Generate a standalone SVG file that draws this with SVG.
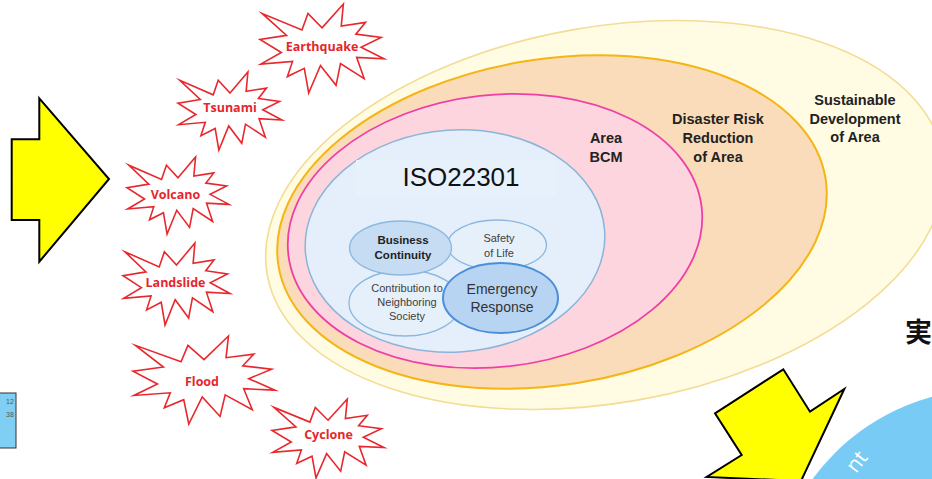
<svg xmlns="http://www.w3.org/2000/svg" xmlns:xlink="http://www.w3.org/1999/xlink" width="932" height="479" viewBox="0 0 932 479">
  <style>
    .burst { fill: #ffffff; stroke: #e8282d; stroke-width: 1.6; vector-effect: non-scaling-stroke; stroke-linejoin: miter; stroke-miterlimit: 10; }
    .hazard { font-family: "Open Sans", "Liberation Sans", sans-serif; font-weight: bold; font-size: 12.5px; fill: #e5262b; text-anchor: middle; }
    .zone { font-family: "Liberation Sans", Arial, sans-serif; font-weight: bold; font-size: 14.5px; fill: #222222; text-anchor: middle; }
    .sub { font-family: "Liberation Sans", Arial, sans-serif; font-size: 11px; fill: #404040; text-anchor: middle; }
    .sub.strong { font-weight: bold; font-size: 11.5px; fill: #222222; }
    .sub.big { font-size: 14px; fill: #333333; }
    .arrow { fill: #ffff00; stroke: #000000; stroke-width: 2; stroke-linejoin: miter; }
  </style>
  <defs>
    <!-- explosion outline in a 100x100 box -->
    <path id="burst" class="burst" d="M50,26.85 L67.23,0 L65.53,24.65 L85.09,20.63 L77.32,33.87 L97.67,37.67 L81.51,48.5 L100,61.53 L77.95,59.92 L84,83.77 L64.91,66.93 L61.33,91.38 L48.76,69.14 L39.28,100 L35.72,72.35 L22.05,81.56 L26.24,64.52 L0.63,67.53 L17.23,54.51 L0,39.88 L21.42,35.26 L1.71,10.63 L33.85,29.26 L38.67,10.63 Z"/>
  </defs>

  <rect width="932" height="479" fill="#ffffff"/>

  <!-- blue disc at lower right -->
  <g id="cycle-disc">
    <circle cx="990" cy="609" r="220" fill="#77cbf5"/>
    <text x="0" y="0" transform="translate(856,474) rotate(-52)" font-family="'Open Sans', 'Liberation Sans', sans-serif" font-size="21" fill="#ffffff">nt</text>
  </g>

  <!-- small legend box at lower left -->
  <g id="side-box">
    <rect x="-2" y="393" width="18" height="55" fill="#7fcff5" stroke="#333333" stroke-width="1"/>
    <text x="6" y="404" font-family="'Liberation Sans', sans-serif" font-size="7" fill="#555555">12</text>
    <text x="6" y="417" font-family="'Liberation Sans', sans-serif" font-size="7" fill="#555555">38</text>
  </g>

  <!-- nested scopes -->
  <g id="sustainable">
    <ellipse cx="605" cy="215" rx="343" ry="188" transform="rotate(-10 605 215)" fill="#fffce3" stroke="#f3dc94" stroke-width="1.6"/>
    <text class="zone" x="855" y="105">Sustainable</text>
    <text class="zone" x="855" y="124">Development</text>
    <text class="zone" x="855" y="142">of Area</text>
  </g>
  <g id="drr">
    <ellipse cx="552" cy="222" rx="277" ry="163" transform="rotate(-9 552 222)" fill="#fbdcba" stroke="#f4b515" stroke-width="2"/>
    <text class="zone" x="718" y="124">Disaster Risk</text>
    <text class="zone" x="718" y="143">Reduction</text>
    <text class="zone" x="718" y="162">of Area</text>
  </g>
  <g id="area-bcm">
    <ellipse cx="495" cy="231" rx="208" ry="136" transform="rotate(-6.5 495 231)" fill="#fdd5de" stroke="#ee3fa6" stroke-width="1.8"/>
    <text class="zone" x="606" y="143">Area</text>
    <text class="zone" x="606" y="162">BCM</text>
  </g>
  <g id="iso22301">
    <ellipse cx="455" cy="241" rx="150" ry="111" transform="rotate(-4 455 241)" fill="#e4effb" stroke="#8cb4d8" stroke-width="1.5"/>
    <rect x="356" y="160" width="200" height="37" fill="#e7f1fc"/>
    <text x="461" y="186" font-family="'Liberation Sans', Arial, sans-serif" font-size="26" fill="#111111" text-anchor="middle">ISO22301</text>
  </g>

  <!-- components of ISO22301 -->
  <g id="contribution">
    <ellipse cx="405" cy="303" rx="56" ry="33" fill="#e6f0fb" stroke="#8db8de" stroke-width="1.3"/>
    <text class="sub" x="407" y="292">Contribution to</text>
    <text class="sub" x="407" y="306">Neighboring</text>
    <text class="sub" x="407" y="320">Society</text>
  </g>
  <g id="safety">
    <ellipse cx="497" cy="245" rx="49.5" ry="25" fill="#e6f0fb" stroke="#8db8de" stroke-width="1.3"/>
    <text class="sub" x="499" y="242">Safety</text>
    <text class="sub" x="499" y="257">of Life</text>
  </g>
  <g id="business">
    <ellipse cx="400.5" cy="248" rx="51" ry="27" fill="#c5dcf3" stroke="#8db8de" stroke-width="1.3"/>
    <text class="sub strong" x="403" y="243.5">Business</text>
    <text class="sub strong" x="403" y="258.5">Continuity</text>
  </g>
  <g id="emergency">
    <ellipse cx="500.5" cy="298" rx="57.5" ry="35" fill="#b8d4f3" stroke="#4a8fd8" stroke-width="2"/>
    <text class="sub big" x="502" y="294">Emergency</text>
    <text class="sub big" x="502" y="312">Response</text>
  </g>

  <!-- hazards -->
  <g id="earthquake">
    <use xlink:href="#burst" transform="translate(260 4) scale(1.24 0.89)"/>
    <text class="hazard" x="322" y="50.5">Earthquake</text>
  </g>
  <g id="tsunami">
    <use xlink:href="#burst" transform="translate(178 72) scale(1.04 0.78)"/>
    <text class="hazard" x="230" y="112">Tsunami</text>
  </g>
  <g id="volcano">
    <use xlink:href="#burst" transform="translate(127 157) scale(1.02 0.77)"/>
    <text class="hazard" x="175.5" y="199">Volcano</text>
  </g>
  <g id="landslide">
    <use xlink:href="#burst" transform="translate(123 243) scale(1.07 0.82)"/>
    <text class="hazard" x="175.5" y="286.5">Landslide</text>
  </g>
  <g id="flood">
    <use xlink:href="#burst" transform="translate(133 336) scale(1.42 0.88)"/>
    <text class="hazard" x="202" y="385.5">Flood</text>
  </g>
  <g id="cyclone">
    <use xlink:href="#burst" transform="translate(272 399) scale(1.12 0.79)"/>
    <text class="hazard" x="328.5" y="438.5">Cyclone</text>
  </g>

  <!-- block arrows -->
  <g id="arrow-in">
    <polygon class="arrow" points="39.3,98.3 109,179 39.3,261.7 39.3,220 11.7,220 11.7,139.3 39.3,139.3"/>
  </g>
  <g id="arrow-out">
    <polygon class="arrow" points="715,413.3 783.3,369.3 810,411.7 844.3,389 801,481 706.7,477 741.7,455"/>
  </g>

  <g id="cut-label">
    <text x="905" y="342" font-family="'Liberation Sans', 'Noto Sans CJK JP', sans-serif" font-weight="bold" font-size="27" fill="#111111">実</text>
  </g>
</svg>
